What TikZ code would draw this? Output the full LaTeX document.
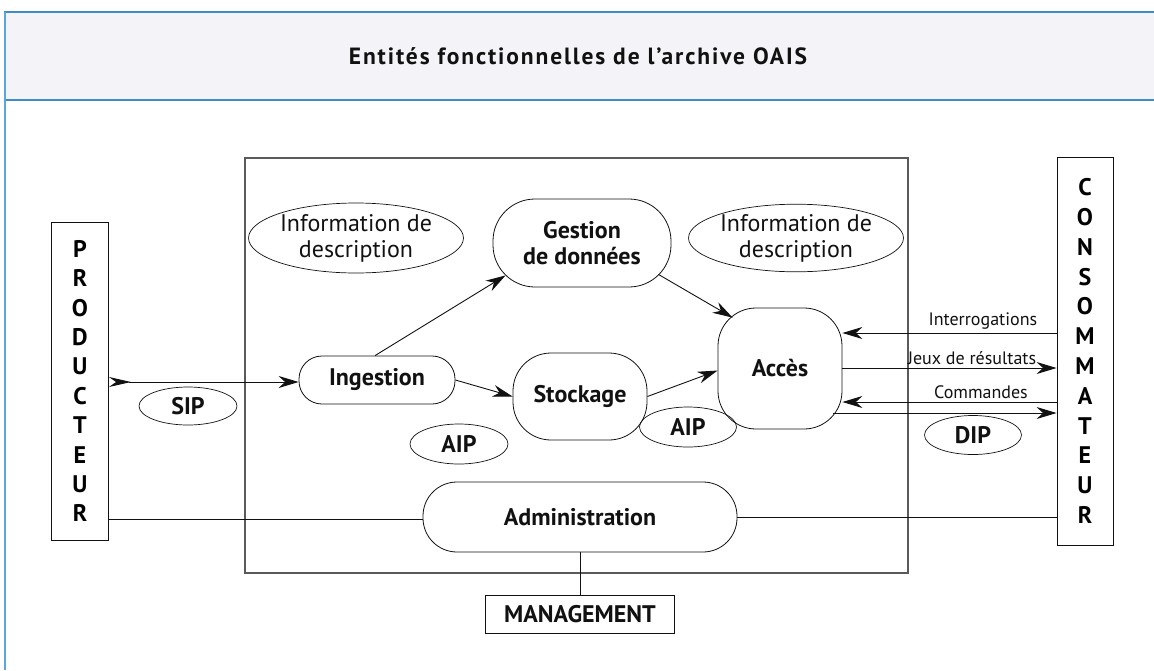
\documentclass[tikz,border=0pt]{standalone}
\usepackage{fontspec}
\setmainfont{PT Sans}
\setsansfont{PT Sans}
\usetikzlibrary{arrows.meta,positioning,shapes.geometric,calc}
\definecolor{BandFill}{HTML}{F4F4F8}
\definecolor{BandLine}{HTML}{3D8BCB}
\definecolor{EdgeBlue}{HTML}{5BA7DD}
\definecolor{FrameGray}{HTML}{5A5A5A}
\definecolor{OaisInk}{HTML}{111111}
\tikzset{
  oaistext/.style={font=\fontsize{24}{26}\selectfont, text=OaisInk},
  oaisbold/.style={font=\fontsize{24}{26}\selectfont\bfseries, text=OaisInk},
  oaissmall/.style={font=\fontsize{18}{20}\selectfont, text=OaisInk},
  entitybox/.style={draw=OaisInk, line width=0.8pt, rounded corners=#1, align=center, oaisbold, inner sep=0pt},
  pkgell/.style={draw=OaisInk, line width=0.7pt, ellipse, inner sep=0pt, oaisbold},
  infoell/.style={draw=OaisInk, line width=0.7pt, ellipse, inner sep=0pt, align=center, oaistext},
  actorbox/.style={draw=OaisInk, line width=0.9pt, align=center, inner sep=0pt, minimum width=57pt,
    font=\fontsize{24}{#1}\selectfont\bfseries},
  flow/.style={-{Stealth[length=20pt,width=12pt]}, line width=0.9pt, draw=OaisInk},
  plain/.style={line width=0.9pt, draw=OaisInk}
}

\begin{document}
\begin{tikzpicture}[x=1pt, y=-1pt]
\useasboundingbox (0,0) rectangle (1154,670);
% title band
\fill[BandFill] (4,12) rectangle (1154,100);
\draw[BandLine, line width=1.6pt] (4,12) -- (1154,12);
\draw[BandLine, line width=1.6pt] (4,100) -- (1154,100);
\draw[EdgeBlue, line width=2pt] (5,12) -- (5,670);
\node[font=\fontsize{23.5}{26}\selectfont\bfseries\addfontfeature{LetterSpace=8}, text=OaisInk] (title) at (578,56) {Entités fonctionnelles de l’archive OAIS};

% archive frame
\node[draw=FrameGray, line width=1.2pt, minimum width=663pt, minimum height=415pt] (archive) at (576.5,365.5) {};

% actors
\node[actorbox=29.4pt, minimum height=318pt] (prod) at (80,381) {P\\R\\O\\D\\U\\C\\T\\E\\U\\R};
\node[actorbox=29.8pt, minimum height=388pt, minimum width=56pt] (cons) at (1085,351) {C\\O\\N\\S\\O\\M\\M\\A\\T\\E\\U\\R};

% functional entities
\node[infoell, minimum width=182pt, minimum height=70pt] (infoL) at (356,238) {Information de\\description};
\node[infoell, minimum width=176pt, minimum height=66pt] (infoR) at (796,238) {Information de\\description};
\node[entitybox=42pt, minimum width=178pt, minimum height=88pt] (gest) at (582,243) {Gestion\\de données};
\node[entitybox=23pt, minimum width=156pt, minimum height=48pt] (ing) at (377,380) {Ingestion};
\node[entitybox=38pt, minimum width=134pt, minimum height=87pt] (stock) at (580,396.5) {Stockage};
\node[entitybox=38pt, minimum width=124pt, minimum height=121pt] (acces) at (780,368.5) {Accès};
\node[entitybox=34pt, minimum width=314pt, minimum height=70pt] (adm) at (580,517) {Administration};
\node[draw=OaisInk, line width=0.9pt, minimum width=189pt, minimum height=38pt, oaisbold, inner sep=0pt] (mgmt) at (580,614) {MANAGEMENT};

% information packages
\node[pkgell, minimum width=98pt, minimum height=38pt] (sip) at (188,406) {SIP};
\node[pkgell, minimum width=98pt, minimum height=40pt] (aipL) at (459,444) {AIP};
\node[pkgell, minimum width=97pt, minimum height=40pt] (aipR) at (688,427) {AIP};
\node[pkgell, minimum width=97pt, minimum height=39pt] (dip) at (973,435) {DIP};

% flows
\draw[flow, {Stealth[reversed,length=22pt,width=10pt]}-{Stealth[length=20pt,width=12pt]}] (prod.east |- 0,382) -- (ing.west |- 0,382);
\draw[flow] ($(ing.north)+(-2,0)$) -- ($(gest.south west)+(13,-12)$);
\draw[flow] ($(gest.south east)+(-13,-13)$) -- ($(acces.north west)+(15,10)$);
\draw[flow] (ing.east) -- (stock.west);
\draw[flow] (stock.east) -- ($(acces.west)+(0,2)$);
\draw[flow] (cons.west |- 0,333) -- node[pos=0.344, above, inner sep=3pt, oaissmall] (qlab) {Interrogations} (acces.east |- 0,333);
\draw[flow] (acces.east |- 0,368) -- node[pos=0.605, above, inner sep=3pt, oaissmall] (rlab) {Jeux de résultats} (cons.west |- 0,368);
\draw[flow] (cons.west |- 0,402) -- node[pos=0.353, above, inner sep=3pt, oaissmall] (clab) {Commandes} (acces.east |- 0,402);
\draw[flow] ($(acces.east |- 0,413)+(-9,0)$) -- (cons.west |- 0,413);

% administration links
\draw[plain] (prod.east |- 0,519) -- (adm.west |- 0,519);
\draw[plain] (adm.east) -- (cons.west |- adm.east);
\draw[plain] (adm.south) -- (mgmt.north);
\end{tikzpicture}
\end{document}
